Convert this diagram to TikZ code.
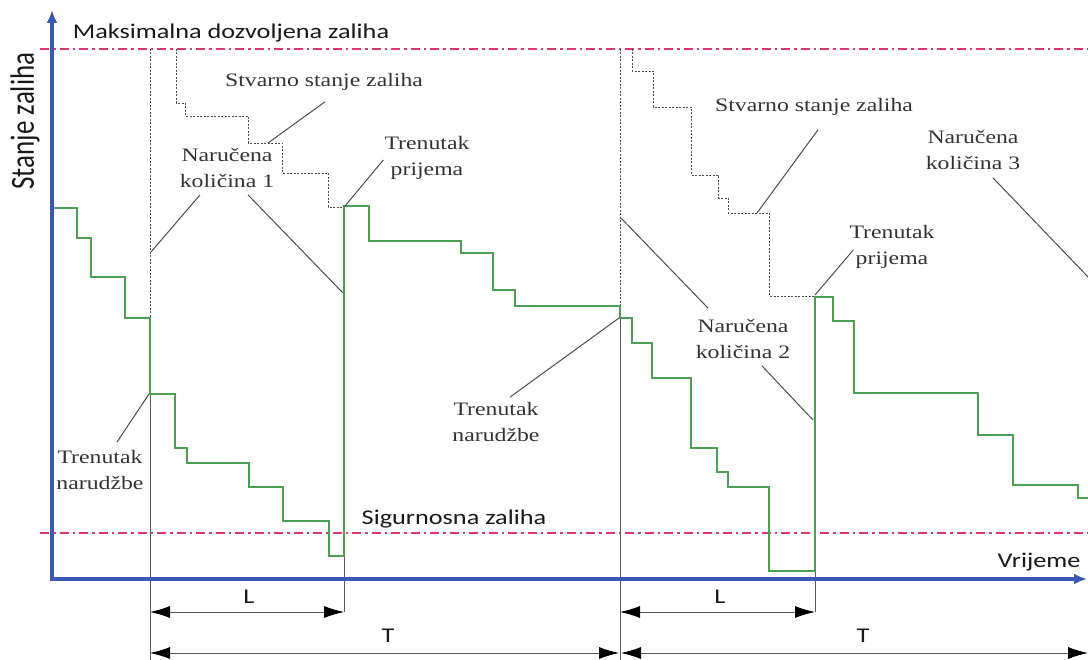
\documentclass[tikz,border=0pt]{standalone}
\usepackage{fontspec}
\setmainfont{Liberation Serif}
\newfontfamily\carlito{Carlito}
\usepackage{tikz}
\usepackage{xcolor}
\usetikzlibrary{arrows.meta, positioning}
\definecolor{osplava}{RGB}{58,88,180}
\definecolor{zelena}{RGB}{76,160,84}
\definecolor{granicna}{RGB}{222,52,112}
\tikzstyle{opis} = [align=center, 
inner sep=0pt, 
xscale=1.25, 
text=black!80, 
font=\fontsize{19}{26}\selectfont]
\tikzstyle{natpis} = [inner sep=0pt, 
xscale=1.25, 
text=black!90, 
font=\carlito\fontsize{21}{24}\selectfont]
\tikzstyle{os} = [line width=3.5pt, draw=osplava, 
{Latex[length=13pt,width=11pt]}-{Latex[length=13pt,width=11pt]}]
\tikzstyle{granica} = [line width=1.6pt, draw=granicna, 
dash pattern=on 9pt off 4pt on 2.5pt off 4pt]
\tikzstyle{zaliha} = [line width=2pt, draw=zelena]
\tikzstyle{stvarno} = [line width=0.8pt, draw=black!70, dash pattern=on 2pt off 1.5pt]
\tikzstyle{tanka} = [line width=0.8pt, draw=black!65]
\tikzstyle{vodilica} = [line width=1pt, draw=black!70]
\tikzstyle{mjera} = [line width=0.8pt, draw=black!65, 
{Latex[length=20pt,width=12pt,color=black]}-{Latex[length=20pt,width=12pt,color=black]}]

\begin{document}
\begin{tikzpicture}[x=1pt, y=-1pt, node distance=8pt, line join=miter]
        \useasboundingbox (0,0) rectangle (1088,660);

        % --- Točke ---
        \coordinate (O) at (52,579);
        \coordinate (yvrh) at (52,10);
        \coordinate (xvrh) at (1087,579);
        \coordinate (maxL) at (40,49);
        \coordinate (maxD) at (1088,49);
        \coordinate (sigL) at (40,533);
        \coordinate (sigD) at (1088,533);
        % trenuci narudžbe i prijema
        \coordinate (n1a) at (150,49);
        \coordinate (n1b) at (150,318);
        \coordinate (n1c) at (150,394);
        \coordinate (n1d) at (150,660);
        \coordinate (n2a) at (620,49);
        \coordinate (n2b) at (620,306);
        \coordinate (n2c) at (620,318);
        \coordinate (n2d) at (620,660);
        \coordinate (r1a) at (344,556);
        \coordinate (r1b) at (344,612);
        \coordinate (r2a) at (815,571);
        \coordinate (r2b) at (815,612);
        % mjere L i T
        \coordinate (L1a) at (150,612);
        \coordinate (L1b) at (344,612);
        \coordinate (L2a) at (620,612);
        \coordinate (L2b) at (815,612);
        \coordinate (T1a) at (150,653);
        \coordinate (T1b) at (619,653);
        \coordinate (T2a) at (621,653);
        \coordinate (T2b) at (1088,653);
        \coordinate (mL1) at (249,612);
        \coordinate (mL2) at (720,612);
        \coordinate (mT1) at (388,653);
        \coordinate (mT2) at (863,653);
        % krajevi vodilica
        \coordinate (s1) at (268,143);
        \coordinate (nar1) at (151,252);
        \coordinate (prij1) at (343,293);
        \coordinate (p1) at (345,206);
        \coordinate (t1) at (149,394);
        \coordinate (t2) at (619,318);
        \coordinate (s2) at (757,213);
        \coordinate (p2) at (815,295);
        \coordinate (nar2) at (620,217);
        \coordinate (prij2) at (813,420);
        \coordinate (k3) at (1090,279);

        % --- Granice zalihe ---
        \draw [granica] (maxL) -- (maxD);
        \draw [granica] (sigL) -- (sigD);

        % --- Okomice ---
        \draw [stvarno] (n1a) -- (n1b);
        \draw [tanka] (n1c) -- (n1d);
        \draw [stvarno] (n2a) -- (n2b);
        \draw [tanka] (n2c) -- (n2d);
        \draw [tanka] (r1a) -- (r1b);
        \draw [tanka] (r2a) -- (r2b);

        % --- Stvarno stanje zaliha ---
        \draw [stvarno] (176,49) |- (185,103) |- (248,116) |- (282,143) |- (328,173) |- (345,207);
        \draw [stvarno] (632,49) |- (653,71) |- (691,107) |- (718,175) |- (728,198) |- (769,213) |- (815,296);

        % --- Stanje zaliha ---
        \draw [zaliha] (52,208) -| (77,238) -| (91,277) -| (125,318) -| (150,394) -| (175,448)
            -| (187,463) -| (249,487) -| (283,521) -| (329,556) -| (344,206) -| (369,241)
            -| (461,253) -| (493,290) -| (515,306) -| (620,318) -| (632,343) -| (652,378)
            -| (691,448) -| (717,472) -| (728,487) -| (769,571) -| (815,297) -| (833,321)
            -| (854,393) -| (978,435) -| (1013,485) -| (1078,498) -- (1088,498);

        % --- Osi ---
        \draw [os] (yvrh) -- (O) -- (xvrh);

        % --- Mjere ---
        \draw [mjera] (L1a) -- (L1b);
        \draw [mjera] (L2a) -- (L2b);
        \draw [mjera] (T1a) -- (T1b);
        \draw [mjera] (T2a) -- (T2b);

        % --- Natpisi ---
        \node (maks) [natpis] at (231,33) {Maksimalna dozvoljena zaliha};
        \node (stanje) [natpis, rotate=90, font=\carlito\fontsize{27}{30}\selectfont] at (25,121) {Stanje zaliha};
        \node (sig) [natpis] at (454,519) {Sigurnosna zaliha};
        \node (vrij) [natpis] at (1039,562) {Vrijeme};
        \node (L1) [natpis, above=of mL1] {L};
        \node (L2) [natpis, above=of mL2] {L};
        \node (T1) [natpis, above=10pt of mT1] {T};
        \node (T2) [natpis, above=10pt of mT2] {T};

        \node (stv1) [opis] at (324,82) {Stvarno stanje zaliha};
        \node (nk1) [opis] at (227,168) {Naručena\\količina 1};
        \node (tp1) [opis] at (427,158) {Trenutak\\prijema};
        \node (tn1) [opis] at (100,470) {Trenutak\\narudžbe};
        \node (tn2) [opis] at (496,422) {Trenutak\\narudžbe};
        \node (stv2) [opis] at (814,107) {Stvarno stanje zaliha};
        \node (tp2) [opis] at (892,247) {Trenutak\\prijema};
        \node (nk2) [opis] at (743,339) {Naručena\\količina 2};
        \node (nk3) [opis] at (973,150) {Naručena\\količina 3};

        % --- Vodilice ---
        \draw [vodilica] ([xshift=1pt,yshift=-11pt]stv1.south) -- (s1);
        \draw [vodilica] ([xshift=-27pt,yshift=-7pt]nk1.south) -- (nar1);
        \draw [vodilica] ([xshift=21pt,yshift=-7pt]nk1.south) -- (prij1);
        \draw [vodilica] ([xshift=-1pt,yshift=-2pt]tp1.west) -- (p1);
        \draw [vodilica] ([xshift=17pt,yshift=8pt]tn1.north) -- (t1);
        \draw [vodilica] ([xshift=14pt,yshift=5pt]tn2.north) -- (t2);
        \draw [vodilica] ([xshift=4pt,yshift=-14pt]stv2.south) -- (s2);
        \draw [vodilica] ([xshift=4pt,yshift=-3pt]tp2.west) -- (p2);
        \draw [vodilica] (nar2) -- ([xshift=-35pt,yshift=11pt]nk2.north);
        \draw [vodilica] ([xshift=19pt,yshift=-7pt]nk2.south) -- (prij2);
        \draw [vodilica] ([xshift=20pt,yshift=-8pt]nk3.south) -- (k3);

    \end{tikzpicture}
\end{document}
